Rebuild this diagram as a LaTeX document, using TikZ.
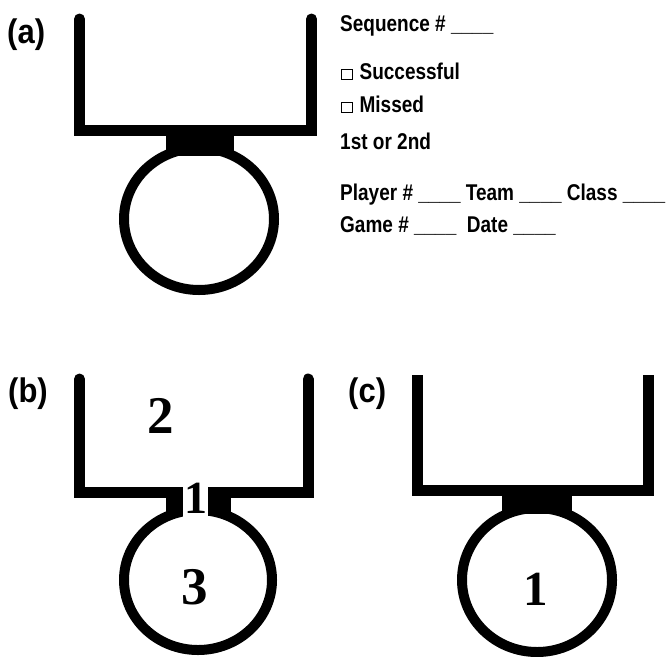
\documentclass[tikz,border=0pt]{standalone}
\usepackage{fontspec}
\setmainfont{Liberation Sans}
\newfontfamily\numfont{Liberation Serif}
\newcommand\chkbox{{\fboxsep=0pt\fboxrule=0.9pt\fbox{\rule{0pt}{9.6pt}\rule{9.6pt}{0pt}}}}
\newcommand\tall[1]{\scalebox{1}[1.2]{#1}}
\tikzset{
  goalframe/.style={line width=11pt, line join=miter},
  ringline/.style={line width=10pt},
  panellabel/.style={anchor=base west, inner sep=0pt, font=\fontsize{31}{34}\selectfont\bfseries},
  formtext/.style={anchor=base west, inner sep=0pt, font=\fontsize{19}{22}\selectfont\bfseries},
  zonenum/.style={anchor=base, inner sep=0pt, font=\fontsize{53}{56}\selectfont\numfont\bfseries},
}
\begin{document}
\begin{tikzpicture}[x=1pt,y=-1pt]
\useasboundingbox (0,0) rectangle (668,656);

% ---------- (a) blank shot chart ----------
\draw[goalframe, line cap=round] (79.5,19) -- (79.5,130) -- (311.5,130) -- (311.5,19);
\fill (166,130) rectangle (234,156);
\draw[ringline] (199,219) ellipse [x radius=75, y radius=71];
\node[panellabel] (la) at (7,43) {\scalebox{1}[1.1]{(a)}};

% recording form
\node[formtext] (seq) at (340,31.5) {\tall{Sequence \# \_\_\_\_}};
\node[formtext] (succ) at (341,79) {\chkbox\hspace{7pt}\tall{Successful}};
\node[formtext] (miss) at (341,112) {\chkbox\hspace{7pt}\tall{Missed}};
\node[formtext] (ord) at (340,149) {\tall{1st or 2nd}};
\node[formtext] (ply) at (340,200) {\tall{Player \# \_\_\_\_ Team \_\_\_\_ Class \_\_\_\_}};
\node[formtext] (gm) at (340,232) {\tall{Game \# \_\_\_\_ \ Date \_\_\_\_}};

% ---------- (b) zones 1, 2, 3 ----------
\draw[goalframe, line cap=round] (79.5,379) -- (79.5,492) -- (308,492) -- (308,379);
\fill (166,492) rectangle (231,516);
\draw[ringline] (198,580) ellipse [x radius=74, y radius=70];
\fill[white] (183,484) rectangle (208,519);
\node[panellabel] (lb) at (8,402) {\scalebox{1}[1.1]{(b)}};
\node[zonenum] (z2) at (160.5,433) {2};
\node[zonenum, font=\fontsize{46}{50}\selectfont\numfont\bfseries] (z1) at (195.5,513) {1};
\node[zonenum] (z3) at (195,604) {3};

% ---------- (c) single zone ----------
\draw[goalframe] (417.5,375) -- (417.5,490) -- (648,490) -- (648,375);
\fill (502,490) rectangle (572,514);
\draw[ringline] (537,580) ellipse [x radius=75, y radius=72];
\node[panellabel] (lc) at (348,402) {\scalebox{1}[1.1]{(c)}};
\node[zonenum, font=\fontsize{49}{52}\selectfont\numfont\bfseries] (zc) at (536,605) {1};
\end{tikzpicture}
\end{document}
